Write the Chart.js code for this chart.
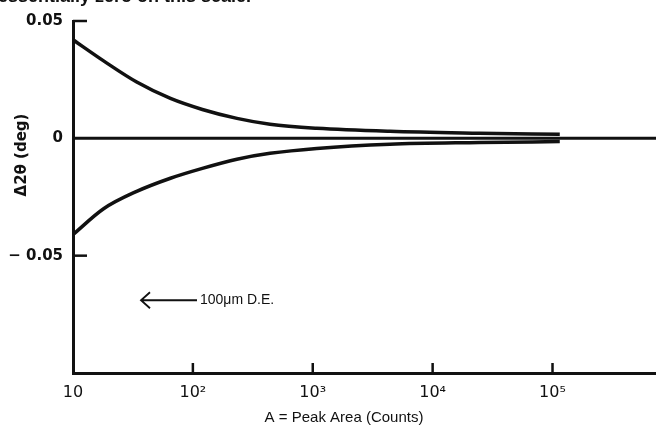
<!DOCTYPE html>
<html>
<head>
<meta charset="utf-8">
<script src="https://cdn.jsdelivr.net/npm/chart.js@4.4.1/dist/chart.umd.min.js"></script>
<style>
  html, body { margin: 0; padding: 0; background: #fff; }
  #wrap { width: 656px; height: 429px; position: relative; }
</style>
</head>
<body>
<div id="wrap"><canvas id="myChart"></canvas></div>
<script>
// peak area (counts) and the two error envelope curves (deg)
const areaCounts = [10, 18, 34, 65, 120, 233, 440, 1080, 4400, 24500, 115000];
const upperShift = [0.042, 0.033, 0.024, 0.017, 0.0123, 0.0085, 0.006, 0.0043, 0.003, 0.0022, 0.0017];
const lowerShift = [-0.041, -0.030, -0.0226, -0.017, -0.0128, -0.0089, -0.0064, -0.0043, -0.0025, -0.0018, -0.0014];
const zeroX = [10, 730000];
const zeroY = [0, 0];

const xTicks = [10, 100, 1000, 10000, 100000];
const xTickLabels = ['10', '10²', '10³', '10⁴', '10⁵'];
const yTicks = [-0.05, 0, 0.05];
const yTickLabels = ['− 0.05', '0', '0.05'];

const ink = '#111';

function toPoints(xs, ys) {
    return xs.map((x, i) => ({ x: x, y: ys[i] }));
}

// inward tick marks, axis titles, the arrow note and the cut-off caption
const extras = {
    id: 'extras',
    afterDraw(chart) {
        const ctx = chart.ctx;
        const xs = chart.scales.x;
        const ys = chart.scales.y;
        const area = chart.chartArea;
        ctx.save();
        ctx.strokeStyle = ink;
        ctx.fillStyle = ink;
        ctx.lineWidth = 2.5;

        xTicks.slice(1).forEach(v => {
            const px = xs.getPixelForValue(v);
            ctx.beginPath();
            ctx.moveTo(px, area.bottom);
            ctx.lineTo(px, area.bottom - 10);
            ctx.stroke();
        });
        [0.05, -0.05].forEach(v => {
            const py = ys.getPixelForValue(v);
            ctx.beginPath();
            ctx.moveTo(area.left, py);
            ctx.lineTo(area.left + 14, py);
            ctx.stroke();
        });

        // y title
        ctx.save();
        ctx.translate(22, 155);
        ctx.rotate(-Math.PI / 2);
        ctx.font = 'bold 15px "DejaVu Sans"';
        ctx.textAlign = 'center';
        ctx.textBaseline = 'middle';
        ctx.fillText('Δ2θ (deg)', 0, 0);
        ctx.restore();

        // x title
        ctx.font = '15px "Liberation Sans"';
        ctx.textAlign = 'center';
        ctx.textBaseline = 'middle';
        ctx.fillText('A = Peak Area (Counts)', 344, 418);

        // arrow note
        const ay = ys.getPixelForValue(-0.069);
        ctx.lineWidth = 1.8;
        ctx.beginPath();
        ctx.moveTo(141, ay);
        ctx.lineTo(197, ay);
        ctx.moveTo(150, ay - 8);
        ctx.lineTo(141, ay);
        ctx.lineTo(150, ay + 8);
        ctx.stroke();
        ctx.font = '14px "Liberation Sans"';
        ctx.textAlign = 'left';
        ctx.fillText('100μm D.E.', 200, ay);

        // caption line from the page above, cut by the crop
        ctx.font = 'bold 18px "Liberation Sans"';
        ctx.textBaseline = 'alphabetic';
        ctx.fillText('essentially zero on this scale.', -2, 2);
        ctx.restore();
    }
};

const ctx = document.getElementById('myChart').getContext('2d');
const myChart = new Chart(ctx, {
    type: 'line',
    data: {
        datasets: [{
            label: 'upper',
            data: toPoints(areaCounts, upperShift),
            borderColor: ink,
            borderWidth: 3.5,
            pointRadius: 0,
            cubicInterpolationMode: 'monotone'
        }, {
            label: 'lower',
            data: toPoints(areaCounts, lowerShift),
            borderColor: ink,
            borderWidth: 3.5,
            pointRadius: 0,
            cubicInterpolationMode: 'monotone'
        }, {
            label: 'zero',
            data: toPoints(zeroX, zeroY),
            borderColor: ink,
            borderWidth: 3,
            pointRadius: 0
        }]
    },
    options: {
        responsive: true,
        maintainAspectRatio: false,
        animation: false,
        layout: { padding: { top: 21, left: 0, right: 0, bottom: 0 } },
        plugins: {
            legend: { display: false },
            tooltip: { enabled: false }
        },
        scales: {
            x: {
                type: 'logarithmic',
                min: 10,
                max: 730000,
                afterBuildTicks: scale => {
                    scale.ticks = xTicks.map(v => ({ value: v }));
                },
                afterFit: scale => { scale.height = 56; },
                grid: { display: false, drawTicks: false },
                border: { color: ink, width: 3 },
                ticks: {
                    autoSkip: false,
                    maxRotation: 0,
                    padding: 10,
                    color: ink,
                    font: { family: 'DejaVu Sans', size: 16 },
                    callback: (value, index) => xTickLabels[index]
                }
            },
            y: {
                min: -0.1,
                max: 0.05,
                afterBuildTicks: scale => {
                    scale.ticks = yTicks.map(v => ({ value: v }));
                },
                afterFit: scale => { scale.width = 73; },
                grid: { display: false, drawTicks: false },
                border: { color: ink, width: 3 },
                ticks: {
                    padding: 10,
                    color: ink,
                    font: { family: 'DejaVu Sans', size: 15, weight: 'bold' },
                    callback: (value, index) => yTickLabels[index]
                }
            }
        }
    },
    plugins: [extras]
});
</script>
</body>
</html>
